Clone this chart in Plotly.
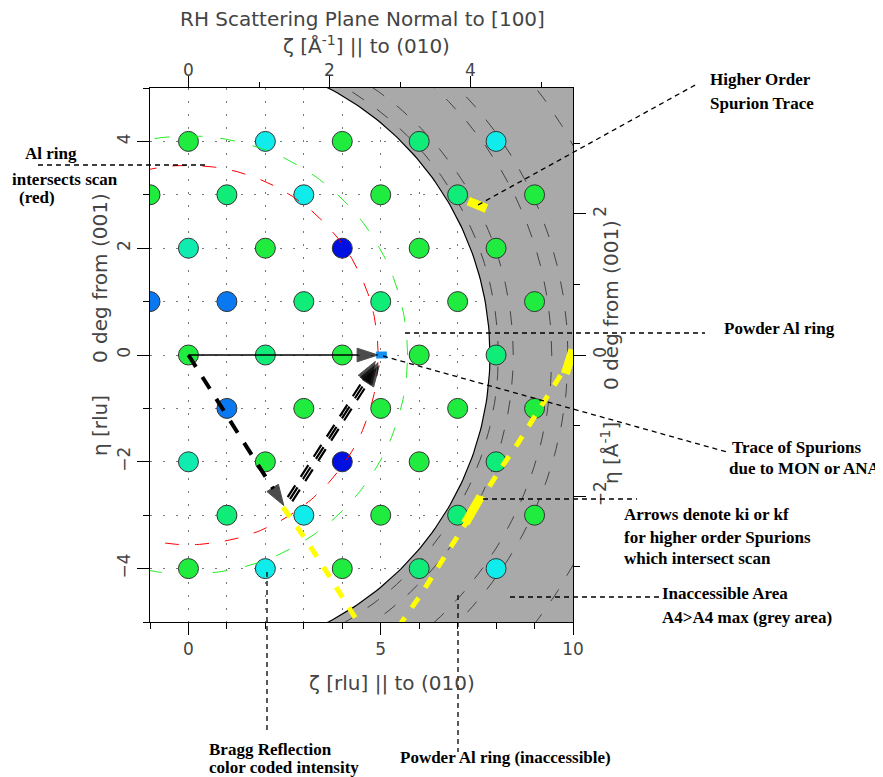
import numpy as np
import plotly.graph_objects as go

# ---------------- data ----------------
# scale factors between rlu and Å^-1 (read from the twin axes)
S_ZETA = 0.5446   # Å^-1 per rlu along ζ
S_ETA = 0.7564    # Å^-1 per rlu along η

# Bragg reflections (ζ, η) and colour-coded intensity
bragg_zeta = [0, 2, 4, 6, 8,
              -1, 1, 3, 5, 7, 9,
              0, 2, 4, 6, 8,
              -1, 1, 3, 5, 7, 9,
              0, 2, 4, 6, 8,
              1, 3, 5, 7, 9,
              0, 2, 4, 6, 8,
              1, 3, 5, 7, 9,
              0, 2, 4, 6, 8]
bragg_eta = [4, 4, 4, 4, 4,
             3, 3, 3, 3, 3, 3,
             2, 2, 2, 2, 2,
             1, 1, 1, 1, 1, 1,
             0, 0, 0, 0, 0,
             -1, -1, -1, -1, -1,
             -2, -2, -2, -2, -2,
             -3, -3, -3, -3, -3,
             -4, -4, -4, -4, -4]
bragg_intensity = [1.0, 0.5, 1.0, 0.8, 0.5,
                   1.0, 0.8, 0.5, 1.0, 0.8, 1.0,
                   0.65, 1.0, 0.0, 1.0, 1.0,
                   0.2, 0.2, 0.8, 0.8, 1.0, 1.0,
                   1.0, 0.8, 1.0, 1.0, 0.8,
                   0.2, 1.0, 1.0, 1.0, 1.0,
                   0.65, 1.0, 0.0, 1.0, 0.8,
                   0.8, 0.5, 1.0, 0.8, 1.0,
                   1.0, 0.5, 1.0, 0.8, 0.5]

# powder rings |Q| in Å^-1
al_ring_red_Q = 2.687     # Al(111) – intersects scan
al_ring_green_Q = 3.103   # Al(200)
al_rings_inaccessible_Q = [4.388, 4.60, 5.145, 5.374, 6.206]
Q_MAX = 4.27              # A4 max limit

# top-axis tick labels (Å^-1)
top_ticks = [0, 2, 4]

# scan and spurion arrows (ζ, η)
ki_zeta = [0, 4.93]
ki_eta = [0, 0]
spur_a_zeta = [0, 2.48]
spur_a_eta = [0, -2.82]
spur_b_zeta = [[2.58, 4.86], [2.64, 4.91], [2.70, 4.96]]
spur_b_eta = [[-2.66, -0.12], [-2.70, -0.16], [-2.74, -0.20]]

# spurion traces
yellow1_zeta = [2.46, 3.0, 3.45, 3.9, 4.45]
yellow1_eta = [-2.85, -3.4, -3.9, -4.4, -5.05]
yellow2_zeta = [5.45, 6.07, 6.49, 6.90, 7.45, 8.10, 8.57, 8.99, 9.43, 9.84, 10.05]
yellow2_eta = [-5.1, -4.46, -3.97, -3.50, -2.90, -2.15, -1.65, -1.16, -0.66, -0.15, 0.05]
yellow_blob1_zeta = [7.2, 7.6]
yellow_blob1_eta = [-3.15, -2.65]
yellow_blob2_zeta = [9.8, 10.0]
yellow_blob2_eta = [-0.35, 0.1]
higher_zeta = [7.28, 7.75]
higher_eta = [2.88, 2.74]
blue_zeta = [4.88, 5.16]
blue_eta = [0, 0]

# ---------------- geometry helpers ----------------
def ring(Q, t0=0, t1=2*np.pi, n=400):
    t = np.linspace(t0, t1, n)
    return Q*np.cos(t)/S_ZETA, Q*np.sin(t)/S_ETA

# plot area in page px (page has an 8px body margin)
OFF = 8
L, R, T, B = 150, 573, 88, 622
W, H = 883 - OFF, 777 - OFF
def px(xp): return (xp - L)/(R - L)
def py(yp): return (B - yp)/(B - T)

fig = go.Figure()

# grey inaccessible region
gz, ge = ring(Q_MAX, np.pi/2*0.98, -np.pi/2*0.98)
gz = list(gz) + [12, 12]
ge = list(ge) + [-8, 8]
fig.add_trace(go.Scatter(x=gz, y=ge, fill='toself', fillcolor='#a9a9a9',
                         line=dict(width=0), mode='lines', hoverinfo='skip'))
for Q in al_rings_inaccessible_Q:
    z, e = ring(Q)
    fig.add_trace(go.Scatter(x=z, y=e, mode='lines', hoverinfo='skip',
                             line=dict(color='#444', width=1, dash='14px,16px')))
z, e = ring(Q_MAX)
fig.add_trace(go.Scatter(x=z, y=e, mode='lines', hoverinfo='skip',
                         line=dict(color='black', width=1.2)))

# Bragg reflections
fig.add_trace(go.Scatter(
    x=bragg_zeta, y=bragg_eta, mode='markers', hoverinfo='skip',
    marker=dict(size=20, color=bragg_intensity, cmin=0, cmax=1,
                colorscale=[[0, '#0010e0'], [0.2, '#0a78f0'], [0.5, '#10ecec'],
                            [0.65, '#10ecb0'], [0.8, '#10ec78'], [1, '#20ec40']],
                line=dict(color='#333', width=1))))

# Al rings red/green
z, e = ring(al_ring_red_Q)
fig.add_trace(go.Scatter(x=z, y=e, mode='lines', hoverinfo='skip',
                         line=dict(color='red', width=1, dash='14px,16px')))
z, e = ring(al_ring_green_Q)
fig.add_trace(go.Scatter(x=z, y=e, mode='lines', hoverinfo='skip',
                         line=dict(color='#22ee22', width=1, dash='15px,18px')))

# yellow spurion traces
for xs, ys in [(yellow1_zeta, yellow1_eta), (yellow2_zeta, yellow2_eta)]:
    fig.add_trace(go.Scatter(x=xs, y=ys, mode='lines', hoverinfo='skip',
                             line=dict(color='#ffff00', width=5, dash='12px,12px')))
for xs, ys in [(yellow_blob1_zeta, yellow_blob1_eta), (yellow_blob2_zeta, yellow_blob2_eta),
               (higher_zeta, higher_eta)]:
    fig.add_trace(go.Scatter(x=xs, y=ys, mode='lines', hoverinfo='skip',
                             line=dict(color='#ffff00', width=9)))
fig.add_trace(go.Scatter(x=blue_zeta, y=blue_eta, mode='lines', hoverinfo='skip',
                         line=dict(color='#1090f0', width=7)))

# arrows
arrow_marker = dict(symbol='arrow', size=[0, 22], angleref='previous', color='black',
                    line=dict(width=1, color='black'))
fig.add_trace(go.Scatter(x=ki_zeta, y=ki_eta, mode='lines+markers', hoverinfo='skip',
                         line=dict(color='black', width=1.5), marker=arrow_marker))
fig.add_trace(go.Scatter(x=spur_a_zeta, y=spur_a_eta, mode='lines+markers', hoverinfo='skip',
                         line=dict(color='black', width=4, dash='14px,12px'),
                         marker=arrow_marker))
for xs, ys in zip(spur_b_zeta, spur_b_eta):
    fig.add_trace(go.Scatter(x=xs, y=ys, mode='lines+markers', hoverinfo='skip',
                             line=dict(color='black', width=2.2, dash='14px,10px'),
                             marker=arrow_marker))

# invisible trace for the Å^-1 axes
fig.add_trace(go.Scatter(x=[0], y=[0], xaxis='x2', yaxis='y2', mode='markers',
                         marker=dict(opacity=0), hoverinfo='skip'))

tickfont = dict(family='DejaVu Sans', size=17, color='#444')
grid = dict(showgrid=True, gridcolor='#777', gridwidth=1, griddash='2px,11px')
fig.update_layout(
    width=W, height=H, autosize=False, showlegend=False,
    margin=dict(l=L - OFF, r=W - (R - OFF), t=T - OFF, b=H - (B - OFF), pad=0),
    paper_bgcolor='white', plot_bgcolor='white',
    xaxis=dict(range=[-1, 10], tick0=0, dtick=5, ticks='outside', ticklen=12,
               tickcolor='black', showline=True, linecolor='black', linewidth=1,
               zeroline=False, tickfont=tickfont, **grid,
               minor=dict(dtick=1, ticks='outside', ticklen=6, tickcolor='black', **grid)),
    yaxis=dict(range=[-5, 5], tick0=0, dtick=2, ticks='outside', ticklen=12,
               tickcolor='black', showline=True, linecolor='black', linewidth=1,
               zeroline=False, tickfont=tickfont, tickangle=-90, **grid,
               minor=dict(dtick=1, ticks='outside', ticklen=6, tickcolor='black', **grid)),
    xaxis2=dict(range=[-1*S_ZETA, 10*S_ZETA], overlaying='x', side='top', anchor='y2',
                tick0=0, dtick=2, ticks='outside', ticklen=11, tickcolor='black',
                showline=True, linecolor='black', linewidth=1, showgrid=False,
                zeroline=False, showticklabels=False,
                minor=dict(dtick=1, ticks='outside', ticklen=5, tickcolor='black')),
    yaxis2=dict(range=[-5*S_ETA, 5*S_ETA], overlaying='y', side='right', anchor='x2',
                tick0=0, dtick=2, ticks='outside', ticklen=12, tickcolor='black',
                showline=True, linecolor='black', linewidth=1, showgrid=False,
                zeroline=False, tickfont=tickfont, tickangle=-90,
                minor=dict(dtick=1, ticks='outside', ticklen=6, tickcolor='black')),
)

# top tick labels placed through the x2 axis scale
for v in top_ticks:
    fig.add_annotation(text=str(v), x=v, xref='x2', y=py(70), yref='paper',
                       showarrow=False, font=tickfont, xanchor='center', yanchor='middle')

NB = '\u00a0'
titlefont = dict(family='DejaVu Sans', size=20, color='#444')
axfont = dict(family='DejaVu Sans', size=20, color='#444')
def ann(text, xp, yp, font, angle=0, xanchor='center'):
    fig.add_annotation(text=text, x=px(xp), y=py(yp), xref='paper', yref='paper',
                       showarrow=False, font=font, textangle=angle,
                       xanchor=xanchor, yanchor='middle')

ann('RH Scattering Plane Normal to [100]', 362, 19, titlefont)
ann('ζ [Å<sup>-1</sup>] || to (010)', 366, 45, axfont)
ann('ζ [rlu] || to (010)', 392, 683, axfont)
ann('η [rlu]' + NB*5 + '0 deg from (001)', 100, 325, axfont, angle=-90)
ann('η [Å<sup>-1</sup>]' + NB*5 + '0 deg from (001)', 610, 352, axfont, angle=-90)

lab = dict(family='Liberation Serif', size=17, color='black')
labels = [
    ('Al ring', 23, 153), ('intersects scan', 10, 179), ('(red)', 17, 198),
    ('Higher Order', 708, 80), ('Spurion Trace', 708, 104),
    ('Powder Al ring', 722, 328),
    ('Trace of Spurions', 730, 447), ('due to MON or ANA', 727, 468),
    ('Arrows denote ki or kf', 622, 514), ('for higher order Spurions', 622, 537),
    ('which intersect scan', 622, 558),
    ('Inaccessible Area', 660, 593), ('A4>A4 max (grey area)', 660, 617),
    ('Bragg Reflection', 207, 749), ('color coded intensity', 207, 767),
    ('Powder Al ring (inaccessible)', 398, 757),
]
for t, xp, yp in labels:
    ann('<b>' + t + '</b>', xp, yp, lab, xanchor='left')

leaders = [((38, 165), (205, 165)), ((478, 205), (697, 84)), ((405, 333), (705, 333)),
           ((383, 356), (727, 452)), ((483, 499), (637, 499)), ((510, 597), (660, 597)),
           ((267, 572), (267, 730)), ((458, 595), (458, 752))]
for (x0, y0), (x1, y1) in leaders:
    fig.add_shape(type='line', xref='paper', yref='paper', x0=px(x0), y0=py(y0),
                  x1=px(x1), y1=py(y1), line=dict(color='black', width=1.3, dash='5px,4px'))

fig.write_html('out.html')
